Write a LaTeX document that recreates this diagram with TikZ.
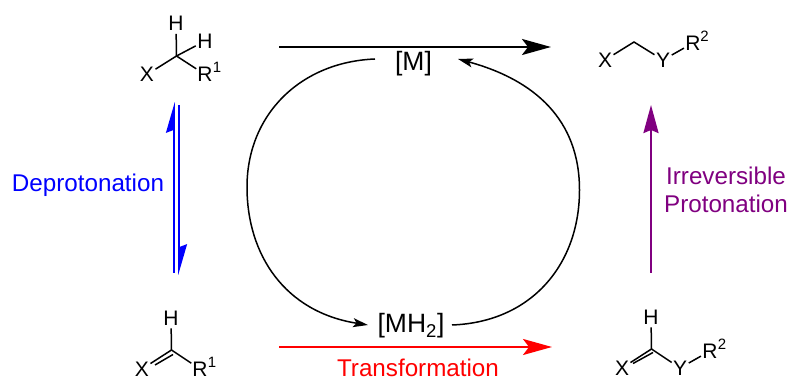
\documentclass[tikz,border=0pt]{standalone}
\usepackage{fontspec}
\setmainfont{Liberation Sans}
\usetikzlibrary{arrows.meta}
\definecolor{dpurple}{RGB}{128,0,128}
\definecolor{lblue}{RGB}{0,0,255}
\tikzset{
  atom/.style={circle,inner sep=0pt,outer sep=0pt,font=\fontsize{21}{21}\selectfont,text=black},
  sup/.style={inner sep=0pt,outer sep=0pt,font=\fontsize{15}{15}\selectfont,text=black},
  bond/.style={line width=1.5pt,black},
  label/.style={inner sep=0pt,font=\fontsize{24.2}{28}\selectfont,align=center},
  metal/.style={inner sep=0pt,font=\fontsize{26.5}{28}\selectfont,text=black},
  bighead/.style={-{Stealth[length=29pt,width=16pt,inset=6pt]}},
  cycle/.style={line width=1.5pt,black,-{Stealth[length=15pt,width=9pt,inset=3.5pt]}},
  harp/.style={line width=1.6pt,lblue,-{Stealth[harpoon,length=28pt,width=16pt,inset=3pt]}},
}
\begin{document}
\begin{tikzpicture}[x=1pt,y=-1pt]
\useasboundingbox (0,0) rectangle (793,379);
% top-left molecule
\coordinate (c1) at (176.5,56);
\node[atom] (h1a) at (176,23.5) {H};
\node[atom] (h1b) at (205,41) {H};
\node[atom] (x1) at (147,74.5) {X};
\node[atom] (r1) at (205,74.5) {R};
\node[sup] (s1) at (217,67.5) {1};
\draw[bond] (c1) -- (h1a);
\draw[bond] (c1) -- (h1b);
\draw[bond] (c1) -- (x1);
\draw[bond] (c1) -- (r1);
% bottom-left molecule
\coordinate (c2) at (171.5,350);
\coordinate (d2a) at (155,365);
\coordinate (d2b) at (173,354.5);
\node[atom] (h2) at (171,318) {H};
\node[atom] (x2) at (142,369) {X};
\node[atom] (r2) at (200,369) {R};
\node[sup] (s2) at (212,362.5) {1};
\draw[bond] (c2) -- (h2);
\draw[bond] (c2) -- (x2);
\draw[bond] (c2) -- (r2);
\draw[bond] (d2a) -- (d2b);
% top-right molecule
\coordinate (c3) at (634,42);
\node[atom] (x3) at (605,60) {X};
\node[atom] (y3) at (663,60) {Y};
\node[atom] (r3) at (693,43) {R};
\node[sup] (s3) at (704.5,36.5) {2};
\draw[bond] (x3) -- (c3) -- (y3);
\draw[bond] (y3) -- (r3);
% bottom-right molecule
\coordinate (c4) at (651.5,349);
\coordinate (d4a) at (633,363.5);
\coordinate (d4b) at (653,352.5);
\node[atom] (h4) at (651,317) {H};
\node[atom] (x4) at (622,368) {X};
\node[atom] (y4) at (680,368) {Y};
\node[atom] (r4) at (710,351) {R};
\node[sup] (s4) at (722,344.5) {2};
\draw[bond] (c4) -- (h4);
\draw[bond] (c4) -- (x4);
\draw[bond] (c4) -- (y4);
\draw[bond] (y4) -- (r4);
\draw[bond] (d4a) -- (d4b);
% metal species
\node[metal] (m) at (413.5,64) {[M]};
\node[metal] (mh) at (411,326) {[MH\textsubscript{2}]};
% horizontal arrows
\coordinate (a1) at (279,47);
\coordinate (a2) at (551,47);
\coordinate (b1) at (279,347);
\coordinate (b2) at (552,347);
\draw[bighead,line width=2.2pt,black] (a1) -- (a2);
\draw[bighead,line width=2pt,red] (b1) -- (b2);
\node[label,text=red] (t) at (418,368) {Transformation};
% vertical arrows
\coordinate (p1) at (651,273);
\coordinate (p2) at (651,105);
\draw[line width=2.4pt,dpurple,-{Stealth[length=28pt,width=15pt,inset=3pt]}] (p1) -- (p2);
\node[label,text=dpurple] (ip) at (726,190) {Irreversible\\Protonation};
\coordinate (u1) at (174,273);
\coordinate (u2) at (174,102);
\coordinate (v1) at (179,105);
\coordinate (v2) at (179,275);
\draw[harp] (u1) -- (u2);
\draw[harp] (v1) -- (v2);
\node[label,text=lblue] (dp) at (88,185) {Deprotonation};
% catalytic cycle
\coordinate (l1) at (375,59);
\coordinate (l2) at (247,187);
\coordinate (l3) at (368,325);
\coordinate (q1) at (452,325);
\coordinate (q2) at (579.5,190);
\coordinate (q3) at (458,59);
\draw[cycle] (l1) .. controls (300,62) and (247,115) .. (l2) .. controls (247,255) and (285,312) .. (l3);
\draw[cycle] (q1) .. controls (532,322) and (579.5,264) .. (q2) .. controls (579.5,120) and (535,80) .. (q3);
\end{tikzpicture}
\end{document}
